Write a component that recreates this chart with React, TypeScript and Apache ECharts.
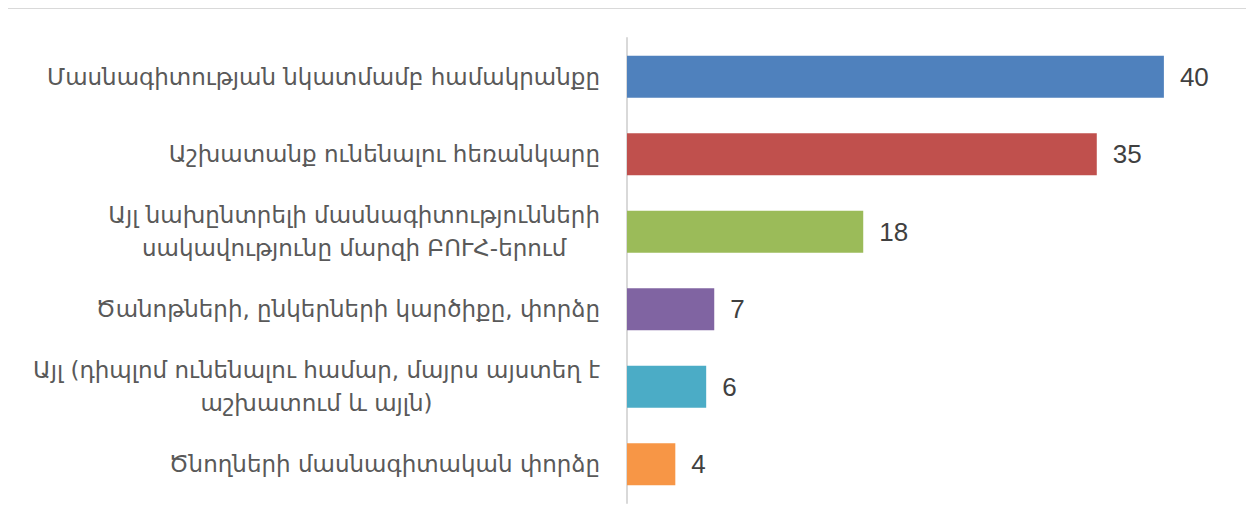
import React, { useEffect, useRef } from "react";
import * as echarts from "echarts";

const categories = [
  "Մասնագիտության նկատմամբ համակրանքը",
  "Աշխատանք ունենալու հեռանկարը",
  "Այլ նախընտրելի մասնագիտությունների\nսակավությունը մարզի ԲՈՒՀ-երում",
  "Ծանոթների, ընկերների կարծիքը, փորձը",
  "Այլ (դիպլոմ ունենալու համար, մայրս այստեղ է\nաշխատում և այլն)",
  "Ծնողների մասնագիտական փորձը",
];
const values = [40, 35, 17.6, 6.5, 5.9, 3.6];
const colors = ["#4F81BD", "#C0504D", "#9BBB59", "#8064A2", "#4BACC6", "#F79646"];

export default function App() {
  const ref = useRef<HTMLDivElement>(null);
  useEffect(() => {
    if (!ref.current) return;
    const chart = echarts.init(ref.current, null, { renderer: "svg" });
    chart.setOption({
      animation: false,
      grid: { left: 619, top: 29, width: 604, height: 465, containLabel: false },
      xAxis: {
        type: "value",
        min: 0,
        max: 45,
        show: false,
      },
      yAxis: {
        type: "category",
        data: categories,
        inverse: true,
        axisTick: { show: false },
        axisLine: { show: true, lineStyle: { color: "#d9d9d9", width: 2 } },
        axisLabel: {
          margin: 27,
          color: "#595959",
          fontFamily: "DejaVu Sans",
          fontSize: 23,
          lineHeight: 33,
          formatter: (v: string) =>
            v
              .split("\n")
              .map((l) => "{c|" + l + "}")
              .join("\n"),
          rich: {
            c: {
              align: "center",
              color: "#595959",
              fontFamily: "DejaVu Sans",
              fontSize: 23,
              lineHeight: 33,
            },
          },
        },
      },
      series: [
        {
          type: "bar",
          data: values.map((v, i) => ({ value: v, itemStyle: { color: colors[i] } })),
          barCategoryGap: "46%",
          label: {
            show: true,
            position: "right",
            distance: 16,
            color: "#404040",
            fontFamily: "Liberation Sans",
            fontSize: 26,
            formatter: (p: any) => String(Math.round(p.value)),
          },
        },
      ],
    });
    return () => chart.dispose();
  }, []);
  return (
    <div
      style={{
        marginLeft: -1,
        borderTop: "1px solid #d9d9d9",
        borderLeft: "1px solid #d9d9d9",
        width: 1246,
        height: 520,
      }}
    >
      <div ref={ref} style={{ width: 1240, height: 510 }} />
    </div>
  );
}
